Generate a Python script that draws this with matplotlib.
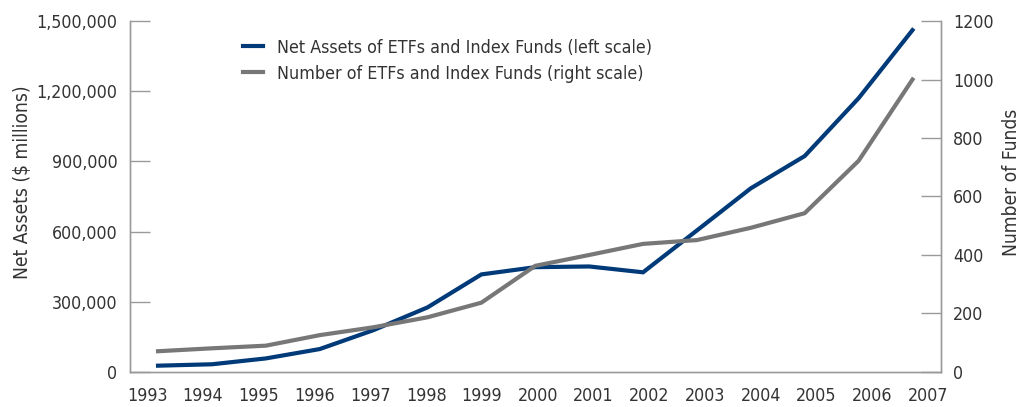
import matplotlib
matplotlib.use("Agg")
import matplotlib.pyplot as plt
import numpy as np

plt.rcParams['font.family'] = ['DejaVu Sans']
plt.rcParams['font.stretch'] = 'condensed'

years = ['1993', '1994', '1995', '1996', '1997', '1998', '1999', '2000',
         '2001', '2002', '2003', '2004', '2005', '2006', '2007']
# net assets, $ millions (left scale)
net_assets = [27000, 33000, 58000, 98000, 179000, 276000, 417000, 448000,
              451000, 426000, 605000, 785000, 923000, 1170000, 1461000]
# number of funds (right scale)
num_funds = [71, 81, 90, 126, 153, 187, 237, 363,
             400, 438, 451, 493, 543, 722, 1000]

blue = '#003a78'
gray = '#777777'
txt = '#333333'
axc = '#9a9a9a'

x = np.arange(len(years))

fig = plt.figure(figsize=(10.27, 4.07), dpi=100)
ax = fig.add_axes([0.1266, 0.086, 0.7897, 0.8624])
ax2 = ax.twinx()

l1, = ax.plot(x, net_assets, color=blue, lw=3, solid_joinstyle='miter', zorder=3)
l2, = ax2.plot(x, num_funds, color=gray, lw=3, solid_joinstyle='miter', zorder=2)

ax.set_xlim(-0.52, 14.53)
ax.set_ylim(0, 1500000)
ax2.set_ylim(0, 1200)

ax.set_yticks(np.arange(0, 1500001, 300000))
ax.set_yticklabels(['{:,}'.format(v) for v in range(0, 1500001, 300000)])
ax2.set_yticks(np.arange(0, 1201, 200))

# category labels sit on a slightly wider spacing than the data points
ax.set_xticks(x * 1.035 - 0.2)
ax.set_xticklabels(years)

for a in (ax, ax2):
    a.spines['top'].set_visible(False)
    for s in ('left', 'right', 'bottom'):
        a.spines[s].set_color(axc)
        a.spines[s].set_linewidth(1)

fs = 12.8
ax.tick_params(axis='y', direction='in', length=14.5, width=1, color=axc,
               labelsize=fs, labelcolor=txt, pad=9)
ax2.tick_params(axis='y', direction='in', length=14.5, width=1, color=axc,
                labelsize=fs, labelcolor=txt, pad=8.5)
ax.tick_params(axis='x', length=0, labelsize=fs, labelcolor=txt, pad=11)

ax.set_ylabel('Net Assets ($ millions)', fontsize=13.8, color=txt)
ax2.set_ylabel('Number of Funds', fontsize=13.8, color=txt)
ax.yaxis.set_label_coords(-0.121, 0.541)
ax2.yaxis.set_label_coords(1.075, 0.541)

ax.legend([l1, l2],
          ['Net Assets of ETFs and Index Funds (left scale)',
           'Number of ETFs and Index Funds (right scale)'],
          loc='upper left', bbox_to_anchor=(0.139, 0.95), frameon=False,
          fontsize=fs, labelcolor=txt, handlelength=1.15, handletextpad=0.8,
          labelspacing=0.45, borderpad=0, borderaxespad=0)

fig.savefig('out.png', dpi=100)
